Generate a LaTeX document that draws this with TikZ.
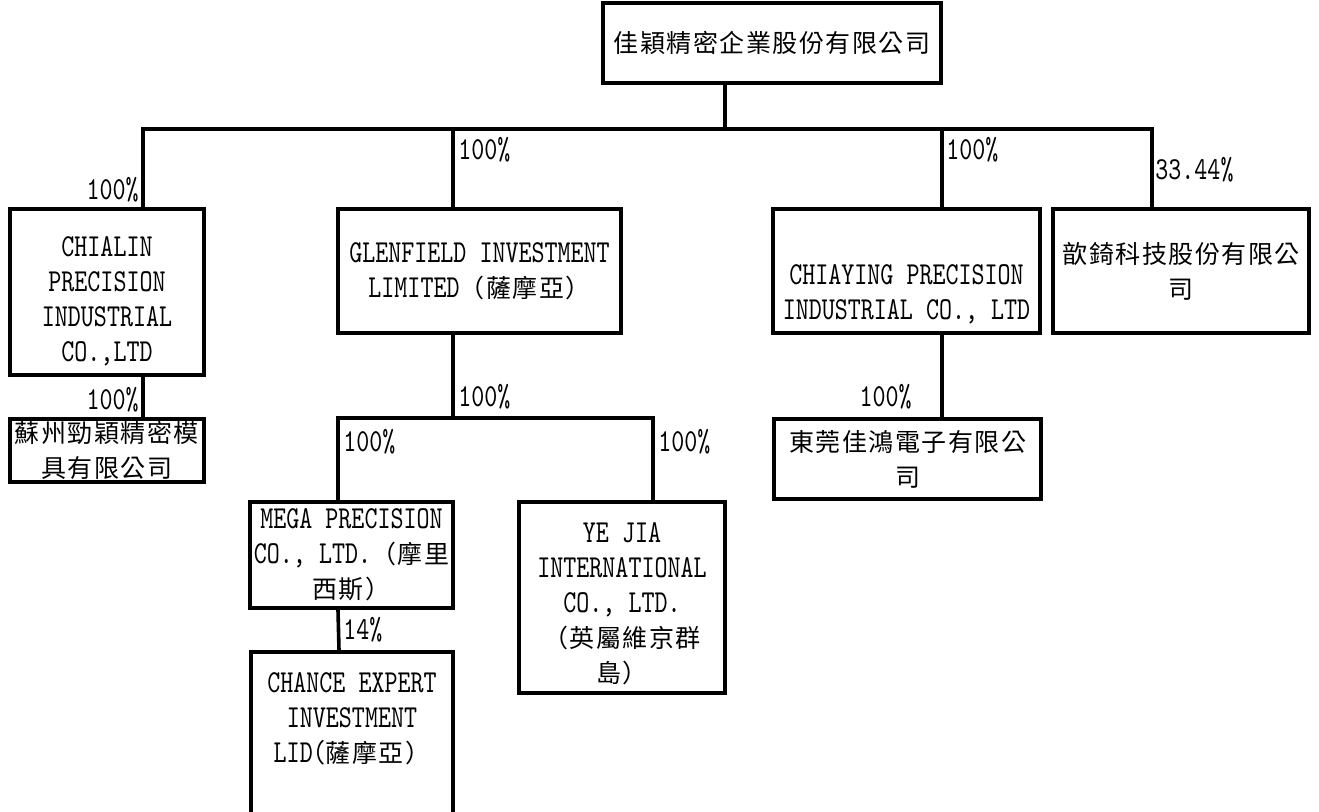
\documentclass[tikz,border=0pt]{standalone}
\usepackage{fontspec}
\setmonofont[FakeStretch=0.775]{lmmono10-regular.otf}
\newfontfamily\cjk[LetterSpace=6]{Noto Sans CJK TC}
\newcommand{\zh}[1]{{\cjk\fontsize{12.5pt}{17.5pt}\selectfont #1}}
\usetikzlibrary{calc}
\tikzset{
    orgbox/.style={draw, line width=1.8pt, inner sep=0pt, align=center,
        font=\fontsize{16pt}{17.5pt}\selectfont\ttfamily},
    share/.style={inner sep=0pt, font=\fontsize{16pt}{17.5pt}\selectfont\ttfamily},
    link/.style={line width=1.8pt},
}

\begin{document}
\begin{tikzpicture}[x=0.5pt, y=-0.5pt]
    \useasboundingbox (0,0) rectangle (1319,811);
    \clip (0,0) rectangle (1319,811);
    % companies
    \node[orgbox, minimum width=169pt, minimum height=40pt] (parent) at (772,43) {\zh{佳穎精密企業股份有限公司}};
    \node[orgbox, minimum width=97pt, minimum height=83pt] (chialin) at (107,292) {\rule{0pt}{19pt}CHIALIN\\PRECISION\\INDUSTRIAL\\CO.,LTD};
    \node[orgbox, minimum width=97pt, minimum height=31.5pt] (suzhou) at (107,450.5) {\zh{蘇州勁穎精密模}\\\zh{具有限公司}};
    \node[orgbox, minimum width=141.5pt, minimum height=62pt] (glenfield) at (479.5,271) {GLENFIELD INVESTMENT\\LIMITED\zh{（薩摩亞）}};
    \node[orgbox, minimum width=101.5pt, minimum height=53pt] (mega) at (351.5,555) {MEGA PRECISION\\CO., LTD.\zh{（摩里}\\\zh{西斯）}};
    \node[orgbox, minimum width=101pt, minimum height=101pt] (chance) at (352,753) {CHANCE EXPERT\\INVESTMENT\\LID(\zh{薩摩亞）}\\\mbox{}\\\mbox{}};
    \node[orgbox, minimum width=103pt, minimum height=95.5pt] (yejia) at (622,597.5) {\rule{0pt}{16.5pt}YE JIA\\INTERNATIONAL\\CO., LTD.\\\zh{（英屬維京群}\\\zh{島）}};
    \node[orgbox, minimum width=133.5pt, minimum height=62pt] (chiaying) at (906.5,271) {\rule{0pt}{33pt}CHIAYING PRECISION\\INDUSTRIAL CO., LTD};
    \node[orgbox, minimum width=133.5pt, minimum height=40pt] (dongguan) at (907.5,459) {\zh{東莞佳鴻電子有限公}\\\zh{司}};
    \node[orgbox, minimum width=128pt, minimum height=62pt] (xinqi) at (1181,271) {\zh{歆錡科技股份有限公}\\\zh{司}};
    % connectors
    \coordinate (bus) at (725,129);
    \coordinate (bus2) at (453,418);
    \draw[link] ([xshift=-23.5pt]parent.south) -- (bus);
    \draw[link] ([xshift=18pt]chialin.north) |- (bus) -| ([xshift=-14.5pt]xinqi.north);
    \foreach \child/\dx in {glenfield/-13.25pt, chiaying/17.75pt}
        \draw[link] (bus) -| ([xshift=\dx]\child.north);
    \draw[link] ([xshift=18pt]chialin.south) -- ([xshift=18pt]suzhou.north);
    \draw[link] ([xshift=-13.25pt]glenfield.south) -- (bus2);
    \draw[link] ([xshift=-6.75pt]mega.north) |- (bus2) -| ([xshift=15.5pt]yejia.north);
    \draw[link] ([xshift=-6.75pt]mega.south) -- ([xshift=-6.5pt]chance.north);
    \draw[link] ([xshift=17.75pt]chiaying.south) -- ([xshift=17.25pt]dongguan.north);
    % shares
    \node[share, anchor=east] (s_chialin) at (139,190) {100\%};
    \node[share, anchor=west] (s_glenfield) at (458,150) {100\%};
    \node[share, anchor=west] (s_chiaying) at (946,150) {100\%};
    \node[share, anchor=west] (s_xinqi) at (1155,170) {33.44\%};
    \node[share, anchor=east] (s_suzhou) at (139,400) {100\%};
    \node[share, anchor=west] (s_bus2) at (458,397) {100\%};
    \node[share, anchor=west] (s_mega) at (343,442) {100\%};
    \node[share, anchor=west] (s_yejia) at (658,442) {100\%};
    \node[share, anchor=west] (s_chance) at (343,630) {14\%};
    \node[share, anchor=east] (s_dongguan) at (912,397) {100\%};
\end{tikzpicture}
\end{document}
